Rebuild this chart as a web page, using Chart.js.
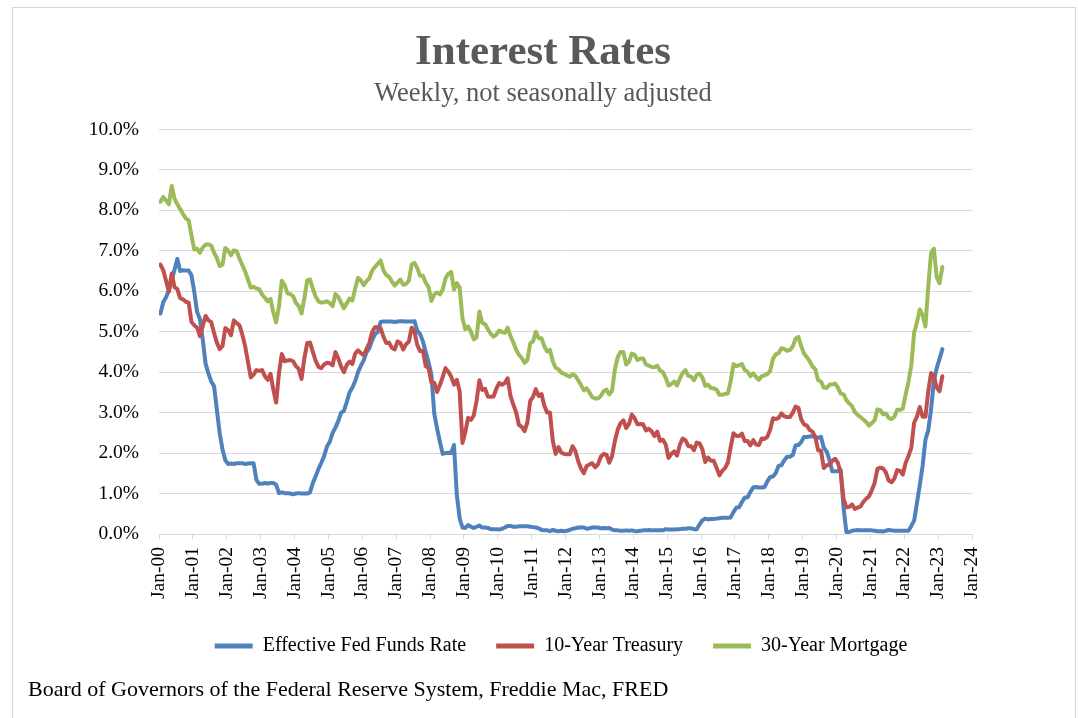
<!DOCTYPE html>
<html>
<head>
<meta charset="utf-8">
<title>Interest Rates</title>
<script src="https://cdn.jsdelivr.net/npm/chart.js@4/dist/chart.umd.min.js"></script>
<style>
  html, body { margin: 0; padding: 0; background: #fff; overflow: hidden; }
  #wrap { position: relative; width: 1078px; height: 718px; }
  #frame { position: absolute; left: 12px; top: 7px; width: 1064px; height: 740px; border: 1px solid #d9d9d9; box-sizing: border-box; }
  #rates { position: absolute; left: 0; top: 0; }
  #source { position: absolute; left: 28px; top: 676px; font: 22px "Liberation Serif", "Times New Roman", serif; line-height: 25px; color: #000; white-space: nowrap; }
</style>
</head>
<body>
<div id="wrap">
  <div id="frame"></div>
  <canvas id="rates" width="1078" height="718"></canvas>
  <div id="source">Board of Governors of the Federal Reserve System, Freddie Mac, FRED</div>
</div>
<script>
// ═══════════════════════════════════════════════════════════════
// ─── DATA (monthly readings, Jan 2000 .. Feb 2023, percent)
// ═══════════════════════════════════════════════════════════════
const startYear = 2000;
const seriesNames = ['Effective Fed Funds Rate', '10-Year Treasury', '30-Year Mortgage'];
const seriesColors = ['#4f81bd', '#c0504d', '#9bbb59'];

const fedFunds = [
  5.45, 5.73, 5.85, 6.02, 6.27, 6.53, 6.80, 6.50, 6.52, 6.51, 6.51, 6.40, // 2000
  5.98, 5.49, 5.31, 4.80, 4.21, 3.97, 3.77, 3.65, 3.07, 2.49, 2.09, 1.82, // 2001
  1.73, 1.74, 1.73, 1.75, 1.75, 1.75, 1.73, 1.74, 1.75, 1.75, 1.34, 1.24, // 2002
  1.24, 1.26, 1.25, 1.26, 1.26, 1.22, 1.01, 1.03, 1.01, 1.01, 1.00, 0.98, // 2003
  1.00, 1.01, 1.00, 1.00, 1.00, 1.03, 1.26, 1.43, 1.61, 1.76, 1.93, 2.16, // 2004
  2.28, 2.50, 2.63, 2.79, 3.00, 3.04, 3.26, 3.50, 3.62, 3.78, 4.00, 4.16, // 2005
  4.29, 4.49, 4.59, 4.79, 4.94, 4.99, 5.24, 5.25, 5.25, 5.25, 5.25, 5.24, // 2006
  5.25, 5.26, 5.26, 5.25, 5.25, 5.25, 5.26, 5.02, 4.94, 4.76, 4.49, 4.24, // 2007
  3.94, 2.98, 2.61, 2.28, 1.98, 2.00, 2.01, 2.00, 2.20, 0.97, 0.39, 0.16, // 2008
  0.15, 0.22, 0.18, 0.15, 0.18, 0.21, 0.16, 0.16, 0.15, 0.12, 0.12, 0.12, // 2009
  0.11, 0.13, 0.16, 0.20, 0.20, 0.18, 0.18, 0.19, 0.19, 0.19, 0.19, 0.18, // 2010
  0.17, 0.16, 0.14, 0.10, 0.09, 0.09, 0.07, 0.10, 0.08, 0.07, 0.08, 0.07, // 2011
  0.08, 0.10, 0.13, 0.14, 0.16, 0.16, 0.16, 0.13, 0.14, 0.16, 0.16, 0.16, // 2012
  0.14, 0.15, 0.14, 0.15, 0.11, 0.09, 0.09, 0.08, 0.08, 0.09, 0.08, 0.09, // 2013
  0.07, 0.07, 0.08, 0.09, 0.09, 0.10, 0.09, 0.09, 0.09, 0.09, 0.09, 0.12, // 2014
  0.11, 0.11, 0.11, 0.12, 0.12, 0.13, 0.13, 0.14, 0.14, 0.12, 0.12, 0.24, // 2015
  0.34, 0.38, 0.36, 0.37, 0.37, 0.38, 0.39, 0.40, 0.40, 0.40, 0.41, 0.54, // 2016
  0.65, 0.66, 0.79, 0.90, 0.91, 1.04, 1.15, 1.16, 1.15, 1.15, 1.16, 1.30, // 2017
  1.41, 1.42, 1.51, 1.69, 1.70, 1.82, 1.91, 1.91, 1.95, 2.19, 2.20, 2.27, // 2018
  2.40, 2.40, 2.41, 2.42, 2.39, 2.38, 2.40, 2.13, 2.04, 1.83, 1.55, 1.55, // 2019
  1.55, 1.58, 0.65, 0.05, 0.05, 0.08, 0.09, 0.10, 0.09, 0.09, 0.09, 0.09, // 2020
  0.09, 0.08, 0.07, 0.07, 0.06, 0.08, 0.10, 0.09, 0.08, 0.08, 0.08, 0.08, // 2021
  0.08, 0.08, 0.20, 0.33, 0.77, 1.21, 1.68, 2.33, 2.56, 3.08, 3.78, 4.10, // 2022
  4.33, 4.57                                                              // 2023
];

const treasury10 = [
  6.66, 6.52, 6.26, 5.99, 6.44, 6.10, 6.05, 5.83, 5.80, 5.74, 5.72, 5.24, // 2000
  5.16, 5.10, 4.89, 5.14, 5.39, 5.28, 5.24, 4.97, 4.73, 4.57, 4.65, 5.09, // 2001
  5.04, 4.91, 5.28, 5.21, 5.16, 4.93, 4.65, 4.26, 3.87, 3.94, 4.05, 4.03, // 2002
  4.05, 3.90, 3.81, 3.96, 3.57, 3.25, 3.98, 4.45, 4.27, 4.29, 4.30, 4.27, // 2003
  4.15, 4.08, 3.83, 4.35, 4.72, 4.73, 4.50, 4.28, 4.13, 4.10, 4.19, 4.23, // 2004
  4.22, 4.17, 4.50, 4.34, 4.14, 4.00, 4.18, 4.26, 4.20, 4.46, 4.54, 4.47, // 2005
  4.42, 4.57, 4.72, 4.99, 5.11, 5.11, 5.09, 4.88, 4.72, 4.73, 4.60, 4.56, // 2006
  4.76, 4.72, 4.56, 4.69, 4.75, 5.10, 5.00, 4.67, 4.52, 4.53, 4.15, 4.10, // 2007
  3.74, 3.74, 3.51, 3.68, 3.88, 4.10, 4.01, 3.89, 3.69, 3.81, 3.53, 2.25, // 2008
  2.52, 2.87, 2.82, 2.93, 3.29, 3.80, 3.56, 3.59, 3.40, 3.39, 3.40, 3.59, // 2009
  3.73, 3.69, 3.73, 3.85, 3.42, 3.20, 3.01, 2.70, 2.65, 2.54, 2.76, 3.29, // 2010
  3.39, 3.58, 3.41, 3.46, 3.17, 3.00, 3.00, 2.30, 1.98, 2.15, 2.01, 1.98, // 2011
  1.97, 1.97, 2.17, 2.05, 1.80, 1.62, 1.50, 1.68, 1.72, 1.75, 1.65, 1.72, // 2012
  1.91, 1.98, 1.96, 1.76, 1.93, 2.30, 2.58, 2.74, 2.81, 2.62, 2.72, 2.95, // 2013
  2.86, 2.71, 2.72, 2.71, 2.56, 2.60, 2.54, 2.42, 2.53, 2.30, 2.33, 2.21, // 2014
  1.88, 1.98, 2.04, 1.94, 2.20, 2.36, 2.32, 2.17, 2.17, 2.07, 2.26, 2.24, // 2015
  2.09, 1.78, 1.89, 1.81, 1.81, 1.64, 1.45, 1.56, 1.63, 1.76, 2.14, 2.49, // 2016
  2.43, 2.42, 2.48, 2.30, 2.30, 2.19, 2.32, 2.21, 2.20, 2.36, 2.35, 2.40, // 2017
  2.58, 2.86, 2.84, 2.87, 2.98, 2.91, 2.89, 2.89, 3.00, 3.15, 3.12, 2.83, // 2018
  2.71, 2.68, 2.57, 2.53, 2.40, 2.07, 2.06, 1.63, 1.70, 1.71, 1.81, 1.86, // 2019
  1.76, 1.50, 0.87, 0.66, 0.67, 0.73, 0.62, 0.65, 0.68, 0.79, 0.87, 0.93, // 2020
  1.08, 1.26, 1.61, 1.64, 1.62, 1.52, 1.32, 1.28, 1.37, 1.58, 1.56, 1.47, // 2021
  1.76, 1.93, 2.13, 2.75, 2.90, 3.14, 2.90, 2.90, 3.52, 3.98, 3.89, 3.62, // 2022
  3.53, 3.90                                                              // 2023
];

const mortgage30 = [
  8.21, 8.33, 8.24, 8.15, 8.60, 8.29, 8.15, 8.03, 7.91, 7.80, 7.75, 7.38, // 2000
  7.03, 7.05, 6.95, 7.08, 7.15, 7.16, 7.13, 6.95, 6.82, 6.62, 6.66, 7.07, // 2001
  7.00, 6.89, 7.01, 6.99, 6.81, 6.65, 6.49, 6.29, 6.09, 6.11, 6.07, 6.05, // 2002
  5.92, 5.84, 5.75, 5.81, 5.48, 5.23, 5.63, 6.26, 6.15, 5.95, 5.93, 5.88, // 2003
  5.71, 5.64, 5.45, 5.83, 6.27, 6.29, 6.06, 5.87, 5.75, 5.72, 5.73, 5.75, // 2004
  5.71, 5.63, 5.93, 5.86, 5.72, 5.58, 5.70, 5.82, 5.77, 6.07, 6.33, 6.27, // 2005
  6.15, 6.25, 6.32, 6.51, 6.60, 6.68, 6.76, 6.52, 6.40, 6.36, 6.24, 6.14, // 2006
  6.22, 6.29, 6.16, 6.18, 6.26, 6.66, 6.70, 6.57, 6.38, 6.38, 6.21, 6.10, // 2007
  5.76, 5.92, 5.97, 5.92, 6.04, 6.32, 6.43, 6.48, 6.04, 6.20, 6.09, 5.33, // 2008
  5.06, 5.13, 5.00, 4.81, 4.86, 5.50, 5.22, 5.19, 5.06, 4.95, 4.88, 4.93, // 2009
  5.03, 4.99, 4.97, 5.10, 4.89, 4.74, 4.56, 4.43, 4.35, 4.23, 4.30, 4.71, // 2010
  4.76, 5.00, 4.84, 4.84, 4.64, 4.51, 4.55, 4.27, 4.11, 4.07, 3.99, 3.96, // 2011
  3.92, 3.89, 3.95, 3.91, 3.80, 3.68, 3.55, 3.60, 3.50, 3.38, 3.35, 3.35, // 2012
  3.41, 3.53, 3.57, 3.45, 3.54, 4.07, 4.37, 4.50, 4.50, 4.19, 4.26, 4.46, // 2013
  4.43, 4.30, 4.34, 4.34, 4.19, 4.16, 4.13, 4.12, 4.16, 4.04, 4.00, 3.86, // 2014
  3.67, 3.71, 3.77, 3.67, 3.84, 3.98, 4.05, 3.91, 3.89, 3.80, 3.94, 3.96, // 2015
  3.87, 3.66, 3.69, 3.61, 3.60, 3.57, 3.44, 3.44, 3.46, 3.47, 3.77, 4.20, // 2016
  4.15, 4.17, 4.20, 4.05, 4.01, 3.90, 3.97, 3.88, 3.81, 3.90, 3.92, 3.95, // 2017
  4.03, 4.33, 4.44, 4.47, 4.59, 4.57, 4.53, 4.55, 4.63, 4.83, 4.87, 4.64, // 2018
  4.46, 4.37, 4.27, 4.14, 4.07, 3.80, 3.77, 3.62, 3.61, 3.69, 3.70, 3.72, // 2019
  3.62, 3.47, 3.45, 3.31, 3.23, 3.16, 3.02, 2.94, 2.89, 2.83, 2.77, 2.68, // 2020
  2.74, 2.81, 3.08, 3.06, 2.96, 2.98, 2.87, 2.84, 2.90, 3.07, 3.07, 3.10, // 2021
  3.45, 3.76, 4.17, 4.98, 5.23, 5.55, 5.41, 5.13, 6.11, 6.95, 7.05, 6.35, // 2022
  6.20, 6.60                                                              // 2023
];

const yTickValues = [0, 1, 2, 3, 4, 5, 6, 7, 8, 9, 10];
const xFirstTick = 2000;
const xLastTick = 2024;

// ═══════════════════════════════════════════════════════════════
// ─── HELPERS
// ═══════════════════════════════════════════════════════════════
const toPoints = (values) => values.map((v, i) => ({ x: startYear + (i + 0.5) / 12, y: v }));
const yearLabel = (v) => 'Jan-' + String(Math.round(v) % 100).padStart(2, '0');

// the original centres its title on the page and its legend under the plot,
// so slide those boxes sideways once the layout is done
const boxShift = {
  id: 'boxShift',
  afterLayout(chart) {
    chart.boxes.forEach(box => {
      if (box === chart.legend) {
        box.left += 65; box.right += 65;
      } else if (box.position === 'top' && !box.axis) {
        box.left += 47; box.right += 47;
      }
    });
  }
};

Chart.defaults.font.family = '"Liberation Serif", "Times New Roman", serif';
Chart.defaults.color = '#000';

const allSeries = [fedFunds, treasury10, mortgage30];

new Chart(document.getElementById('rates'), {
  type: 'line',
  data: {
    datasets: allSeries.map((values, k) => ({
      label: seriesNames[k],
      data: toPoints(values),
      borderColor: seriesColors[k],
      backgroundColor: seriesColors[k],
      borderWidth: 4,
      pointRadius: 0,
      tension: 0,
      borderJoinStyle: 'round',
      borderCapStyle: 'round',
      order: 3 - k
    }))
  },
  plugins: [boxShift],
  options: {
    responsive: false,
    animation: false,
    devicePixelRatio: 1,
    layout: { padding: { left: 20, right: 106, top: 14, bottom: 52 } },
    plugins: {
      tooltip: { enabled: false },
      title: {
        display: true,
        text: 'Interest Rates',
        color: '#595959',
        font: { size: 43, weight: 'bold' },
        padding: { top: 13, bottom: 0 }
      },
      subtitle: {
        display: true,
        text: 'Weekly, not seasonally adjusted',
        color: '#595959',
        font: { size: 26.5 },
        padding: { top: 0, bottom: 19 }
      },
      legend: {
        position: 'bottom',
        labels: {
          boxWidth: 38,
          boxHeight: 5,
          padding: 30,
          color: '#000',
          font: { size: 20 },
          sort: (a, b) => a.datasetIndex - b.datasetIndex,
          generateLabels(chart) {
            return Chart.defaults.plugins.legend.labels.generateLabels(chart).map(item => ({
              ...item, lineWidth: 0, fillStyle: item.strokeStyle
            }));
          }
        }
      }
    },
    scales: {
      x: {
        type: 'linear',
        min: xFirstTick,
        max: xLastTick,
        ticks: {
          stepSize: 1,
          autoSkip: false,
          minRotation: 90,
          maxRotation: 90,
          padding: 8,
          color: '#000',
          font: { size: 19.5 },
          callback: yearLabel
        },
        grid: { drawOnChartArea: false, drawTicks: true, tickLength: 5, color: '#d9d9d9' },
        border: { display: true, color: '#d9d9d9', width: 1 },
        afterFit(scale) { scale.height = 72; }
      },
      y: {
        min: yTickValues[0],
        max: yTickValues[yTickValues.length - 1],
        ticks: {
          stepSize: 1,
          padding: 20,
          color: '#000',
          font: { size: 19.5 },
          callback: (v) => v.toFixed(1) + '%'
        },
        grid: { color: '#d9d9d9', lineWidth: 1, drawTicks: false },
        border: { display: false },
        afterFit(scale) { scale.width = 139; }
      }
    }
  }
});
</script>
</body>
</html>
